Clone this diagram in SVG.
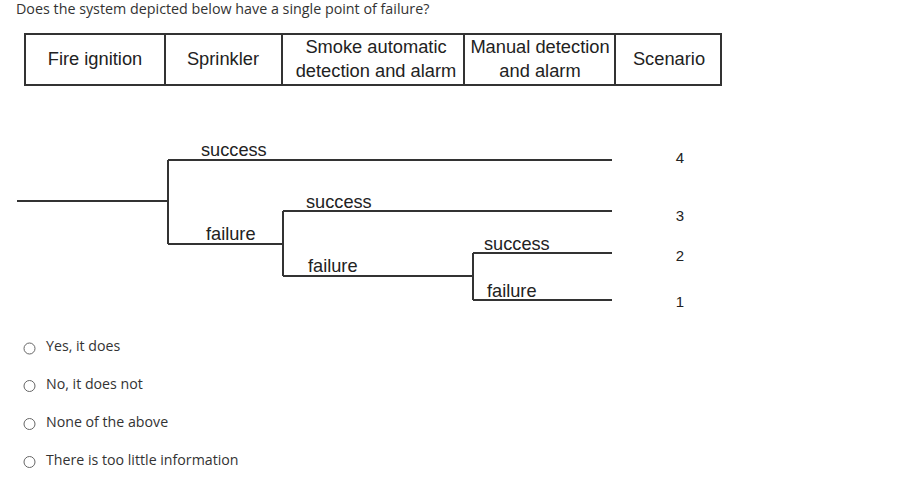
<svg xmlns="http://www.w3.org/2000/svg" width="904" height="502" viewBox="0 0 904 502">
<style>
.q{font-family:"Open Sans",sans-serif;font-size:14.3px;fill:#333}
.o{font-family:"Open Sans",sans-serif;font-size:14.2px;fill:#333}
.h{font-family:"Liberation Sans",Arial,sans-serif;font-size:18.3px;fill:#222;text-anchor:middle}
.l{font-family:"Liberation Sans",Arial,sans-serif;font-size:18.2px;fill:#222}
.n{font-family:"Liberation Sans",Arial,sans-serif;font-size:15px;fill:#222;text-anchor:middle}
.ln{stroke:#333;stroke-width:2;fill:none}
.rb{fill:#fff;stroke:#666;stroke-width:1}
</style>
<rect width="904" height="502" fill="#fff"/>
<text class="q" x="16" y="14">Does the system depicted below have a single point of failure?</text>
<g id="header">
<rect x="25" y="34" width="696" height="51" class="ln"/>
<line x1="165" y1="34" x2="165" y2="85" class="ln"/>
<line x1="282" y1="34" x2="282" y2="85" class="ln"/>
<line x1="464" y1="34" x2="464" y2="85" class="ln"/>
<line x1="615" y1="34" x2="615" y2="85" class="ln"/>
<text class="h" x="95" y="65">Fire ignition</text>
<text class="h" x="223" y="65">Sprinkler</text>
<text class="h" x="376" y="53">Smoke automatic</text>
<text class="h" x="376" y="77">detection and alarm</text>
<text class="h" x="540" y="53">Manual detection</text>
<text class="h" x="540" y="77">and alarm</text>
<text class="h" x="669" y="65">Scenario</text>
</g>
<g id="connectors">
<path class="ln" d="M17 201H168M168 160V244M168 160H612M168 244H283M283 211V276M283 211H612M283 276H473M473 253V300M473 253H612M473 300H612"/>
</g>
<g id="labels">
<text class="l" x="201" y="156">success</text>
<text class="l" x="206" y="240">failure</text>
<text class="l" x="306" y="208">success</text>
<text class="l" x="308" y="272">failure</text>
<text class="l" x="484" y="250">success</text>
<text class="l" x="487" y="297">failure</text>
</g>
<g id="scenarios">
<text class="n" x="680" y="163">4</text>
<text class="n" x="680" y="221">3</text>
<text class="n" x="680" y="261">2</text>
<text class="n" x="680" y="307">1</text>
</g>
<g id="options">
<circle class="rb" cx="29.5" cy="348.5" r="5.5"/>
<text class="o" x="46" y="351">Yes, it does</text>
<circle class="rb" cx="29.5" cy="386" r="5.5"/>
<text class="o" x="46" y="389">No, it does not</text>
<circle class="rb" cx="29.5" cy="424" r="5.5"/>
<text class="o" x="46" y="427">None of the above</text>
<circle class="rb" cx="29.5" cy="462" r="5.5"/>
<text class="o" x="46" y="465">There is too little information</text>
</g>
</svg>
